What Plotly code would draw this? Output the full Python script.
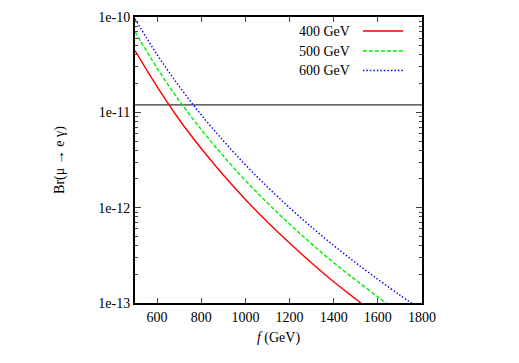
import plotly.graph_objects as go

# f (GeV) and Br(mu -> e gamma)
f_400 = [500, 600, 700, 800, 900, 1000, 1100, 1200, 1300, 1400, 1500, 1550]
br_400 = [4.43e-11, 1.86e-11, 8.41e-12, 4.17e-12, 2.20e-12, 1.22e-12, 7.07e-13,
          4.25e-13, 2.63e-13, 1.67e-13, 1.10e-13, 8.9e-14]

f_500 = [500, 600, 700, 800, 900, 1000, 1100, 1200, 1300, 1400, 1500, 1600, 1650]
br_500 = [7.0e-11, 2.91e-11, 1.33e-11, 6.61e-12, 3.48e-12, 1.93e-12, 1.12e-12,
          6.73e-13, 4.17e-13, 2.65e-13, 1.74e-13, 1.16e-13, 9.5e-14]

f_600 = [500, 600, 700, 800, 900, 1000, 1100, 1200, 1300, 1400, 1500, 1600, 1700, 1760]
br_600 = [9.55e-11, 4.04e-11, 1.88e-11, 9.42e-12, 5.04e-12, 2.82e-12, 1.65e-12,
          1.00e-12, 6.24e-13, 4.01e-13, 2.64e-13, 1.77e-13, 1.21e-13, 9.7e-14]

bound_f = [500, 1800]
bound_br = [1.2e-11, 1.2e-11]

labels = ["400 GeV", "500 GeV", "600 GeV"]
y_ticks = [1e-13, 1e-12, 1e-11, 1e-10]
y_ticktext = ["1e-13", "1e-12", "1e-11", "1e-10"]
x_ticks = [600, 800, 1000, 1200, 1400, 1600, 1800]

FONT = "Liberation Serif"
styles = [("#ff0000", "solid"), ("#00ee00", "4px,2px"), ("#0000ff", "1.5px,2px")]

fig = go.Figure()
fig.add_trace(go.Scatter(x=bound_f, y=bound_br, mode="lines",
                         line=dict(color="#333333", width=1.3)))
for fx, by, (clr, dash) in zip([f_400, f_500, f_600], [br_400, br_500, br_600], styles):
    fig.add_trace(go.Scatter(x=fx, y=by, mode="lines", line_shape="spline",
                             line=dict(color=clr, width=1.4, dash=dash)))

# legend: gnuplot style, text on the left, sample on the right
legend_y = [0.951, 0.881, 0.813]
for lab, yy, (clr, dash) in zip(labels, legend_y, styles):
    fig.add_annotation(x=0.756, y=yy, xref="paper", yref="paper", text=lab,
                       showarrow=False, xanchor="right", yanchor="middle",
                       font=dict(family=FONT, size=14, color="black"))
    fig.add_shape(type="line", xref="paper", yref="paper",
                  x0=0.794, x1=0.934, y0=yy, y1=yy,
                  line=dict(color=clr, width=1.4, dash=dash))

# page body has an 8px margin, so margins are shifted to compensate
fig.update_layout(
    width=519, height=363,
    margin=dict(l=127, r=105, t=9, b=68, autoexpand=False),
    paper_bgcolor="white", plot_bgcolor="white",
    showlegend=False,
    font=dict(family=FONT, size=14, color="black"),
    xaxis=dict(range=[500, 1800], tickvals=x_ticks, ticks="inside", ticklen=5,
               showgrid=False, zeroline=False, showline=True, linecolor="black",
               linewidth=2, mirror="ticks", tickfont=dict(size=14), automargin=False,
               title=dict(text="<i>f</i> (GeV)", standoff=8, font=dict(size=14))),
    yaxis=dict(type="log", range=[-13, -10], tickvals=y_ticks, ticktext=y_ticktext,
               ticks="inside", ticklen=6, showgrid=False, zeroline=False,
               showline=True, linecolor="black", linewidth=2, mirror="ticks",
               tickfont=dict(size=14), automargin=False,
               minor=dict(ticks="inside", ticklen=3, dtick="D1", showgrid=False),
               title=dict(text="Br(μ → e γ)", standoff=30, font=dict(size=14))),
)

fig.write_html("out.html")
